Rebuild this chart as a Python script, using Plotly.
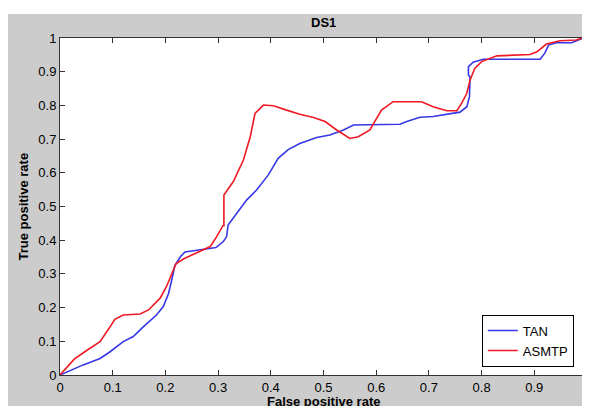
import plotly.graph_objects as go

tan_fpr = [0, 0.022, 0.044, 0.076, 0.095, 0.12, 0.139, 0.158, 0.183, 0.196, 0.206, 0.212, 0.218, 0.228,
           0.237, 0.26, 0.285, 0.296, 0.31, 0.316, 0.319, 0.335, 0.354, 0.373, 0.395, 0.414, 0.433, 0.455,
           0.487, 0.512, 0.538, 0.557, 0.645, 0.658, 0.683, 0.708, 0.734, 0.759, 0.772, 0.777, 0.778, 0.775,
           0.775, 0.784, 0.803, 0.911, 0.92, 0.927, 0.942, 0.971, 0.987, 0.993, 1.0]
tan_tpr = [0, 0.015, 0.03, 0.049, 0.069, 0.099, 0.114, 0.143, 0.178, 0.203, 0.242, 0.282, 0.325, 0.35,
           0.365, 0.37, 0.376, 0.378, 0.396, 0.41, 0.445, 0.48, 0.519, 0.549, 0.593, 0.643, 0.669, 0.687,
           0.705, 0.712, 0.727, 0.742, 0.744, 0.752, 0.765, 0.767, 0.774, 0.78, 0.796, 0.826, 0.885, 0.89,
           0.915, 0.928, 0.937, 0.937, 0.955, 0.979, 0.986, 0.986, 0.996, 1.0, 1.0]

asmtp_fpr = [0, 0.012, 0.027, 0.047, 0.076, 0.095, 0.104, 0.12, 0.152, 0.168, 0.19, 0.202, 0.212, 0.22,
             0.235, 0.266, 0.285, 0.297, 0.309, 0.311, 0.311, 0.329, 0.348, 0.361, 0.37, 0.386, 0.405, 0.43,
             0.455, 0.481, 0.503, 0.525, 0.55, 0.566, 0.588, 0.61, 0.632, 0.686, 0.708, 0.734, 0.753, 0.762,
             0.772, 0.778, 0.787, 0.8, 0.829, 0.892, 0.905, 0.923, 0.949, 0.98, 0.99, 1.0]
asmtp_tpr = [0, 0.02, 0.047, 0.069, 0.099, 0.143, 0.165, 0.178, 0.181, 0.193, 0.228, 0.262, 0.3, 0.33,
             0.345, 0.366, 0.381, 0.41, 0.443, 0.443, 0.534, 0.574, 0.638, 0.707, 0.776, 0.801, 0.799, 0.786,
             0.774, 0.764, 0.752, 0.727, 0.702, 0.707, 0.727, 0.786, 0.811, 0.811, 0.796, 0.784, 0.784, 0.806,
             0.836, 0.875, 0.91, 0.93, 0.947, 0.951, 0.959, 0.982, 0.992, 0.994, 1.0, 1.0]

tick_vals = [0, 0.1, 0.2, 0.3, 0.4, 0.5, 0.6, 0.7, 0.8, 0.9, 1]
tick_text = ["0", "0.1", "0.2", "0.3", "0.4", "0.5", "0.6", "0.7", "0.8", "0.9", "1"]

FONT = "Liberation Sans, Arial, sans-serif"

fig = go.Figure()
fig.add_trace(go.Scatter(x=tan_fpr, y=tan_tpr, mode="lines", name="TAN",
                         line=dict(color="rgb(55,55,230)", width=1.6)))
fig.add_trace(go.Scatter(x=asmtp_fpr, y=asmtp_tpr, mode="lines", name="ASMTP",
                         line=dict(color="rgb(240,25,35)", width=1.6)))

axis_common = dict(range=[0, 1], tickvals=tick_vals, ticktext=tick_text, ticks="inside", ticklen=5,
                   tickcolor="#333", showline=True, linecolor="#333", linewidth=1, mirror="ticks",
                   showgrid=False, zeroline=False, automargin=False, ticklabeloverflow="allow",
                   tickfont=dict(family=FONT, size=13, color="black"))

# the page adds an 8px body margin on the left and top; size the figure so the page fits the window
fig.update_layout(
    width=582, height=398,
    margin=dict(l=52, r=3, t=30, b=31, autoexpand=False),
    paper_bgcolor="#cccccc", plot_bgcolor="white",
    showlegend=True,
    legend=dict(x=0.975, y=0.025, xanchor="right", yanchor="bottom", bgcolor="white",
                bordercolor="black", borderwidth=1, font=dict(family=FONT, size=13, color="black"),
                tracegroupgap=0),
    xaxis=axis_common, yaxis=axis_common,
    shapes=[
        dict(type="rect", xref="paper", yref="paper", x0=-0.2, x1=1.1, y0=1.0712, y1=1.2,
             fillcolor="white", line=dict(width=0), layer="below"),
    ],
    annotations=[
        dict(text="<b>DS1</b>", xref="paper", yref="paper", x=0.5, y=(375 - 22.5) / 337,
             xanchor="center", yanchor="middle", showarrow=False,
             font=dict(family=FONT, size=13, color="black")),
        dict(text="<b>False positive rate</b>", xref="paper", yref="paper", x=0.5, y=(375 - 401) / 337,
             xanchor="center", yanchor="middle", showarrow=False,
             font=dict(family=FONT, size=13, color="black")),
        dict(text="<b>True positive rate</b>", xref="paper", yref="paper", x=(23 - 60) / 527, y=0.5,
             xanchor="center", yanchor="middle", showarrow=False, textangle=-90,
             font=dict(family=FONT, size=13, color="black")),
    ],
)

fig.write_html("out.html")
